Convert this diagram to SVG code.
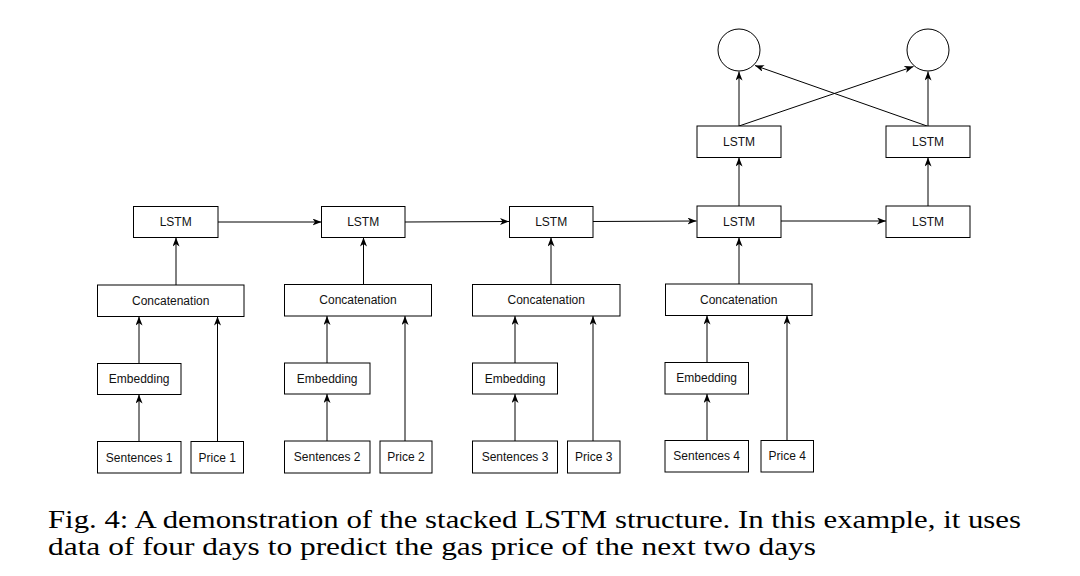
<svg xmlns="http://www.w3.org/2000/svg" width="1080" height="576" viewBox="0 0 1080 576">
<defs>
<marker id="arr" markerUnits="userSpaceOnUse" markerWidth="10" markerHeight="8" refX="9" refY="3.5" orient="auto">
<path d="M0,0 L9,3.5 L0,7 L2.5,3.5 z" fill="#000"/>
</marker>
<style>
.b{fill:#fff;stroke:#000;stroke-width:1}
.t{font-family:"Liberation Sans",Arial,Helvetica,sans-serif;font-size:12px;fill:#111;text-anchor:middle;dominant-baseline:central}
.c{fill:none;stroke:#000;stroke-width:1;marker-end:url(#arr)}
.cap{font-family:"Liberation Serif","Times New Roman",serif;font-size:26px;fill:#000}
</style>
</defs>
<rect width="1080" height="576" fill="#fff"/>

<g id="connectors">
<!-- column 1 -->
<line class="c" x1="139" y1="441.5" x2="139" y2="394.5"/>
<line class="c" x1="139" y1="363.5" x2="139" y2="316.5"/>
<line class="c" x1="217.5" y1="441.5" x2="217.5" y2="316.5"/>
<line class="c" x1="176" y1="285" x2="176" y2="237.5"/>
<line class="c" x1="218" y1="222" x2="321.5" y2="222"/>
<!-- column 2 -->
<line class="c" x1="327" y1="441" x2="327" y2="394"/>
<line class="c" x1="327" y1="363" x2="327" y2="316"/>
<line class="c" x1="405" y1="441" x2="405" y2="316"/>
<line class="c" x1="363.5" y1="284.5" x2="363.5" y2="237.5"/>
<line class="c" x1="405" y1="222" x2="509" y2="221.5"/>
<!-- column 3 -->
<line class="c" x1="515" y1="441" x2="515" y2="394"/>
<line class="c" x1="515" y1="363" x2="515" y2="316"/>
<line class="c" x1="593" y1="441" x2="593" y2="316"/>
<line class="c" x1="551" y1="284.5" x2="551" y2="237.5"/>
<line class="c" x1="593" y1="221.5" x2="696.5" y2="221"/>
<!-- column 4 -->
<line class="c" x1="707" y1="440.5" x2="707" y2="394"/>
<line class="c" x1="707" y1="362.5" x2="707" y2="315.5"/>
<line class="c" x1="787" y1="440.5" x2="787" y2="315.5"/>
<line class="c" x1="739" y1="284" x2="739" y2="237.5"/>
<line class="c" x1="781" y1="221" x2="886" y2="221"/>
<!-- upper layer -->
<line class="c" x1="739" y1="206" x2="739" y2="157.5"/>
<line class="c" x1="928" y1="206" x2="928" y2="157.5"/>
<line class="c" x1="739" y1="126" x2="739" y2="71.5"/>
<line class="c" x1="928" y1="126" x2="928" y2="71.5"/>
<line class="c" x1="739" y1="126" x2="913.5" y2="66.5"/>
<line class="c" x1="927" y1="126" x2="755" y2="65.5"/>
</g>

<!-- column 1 -->
<g id="sentences1"><rect class="b" x="97.5" y="441.5" width="83.5" height="31.5"/><text class="t" x="139.2" y="457.5">Sentences 1</text></g>
<g id="price1"><rect class="b" x="191" y="441.5" width="52.5" height="31.5"/><text class="t" x="217.2" y="457.5">Price 1</text></g>
<g id="embedding1"><rect class="b" x="97.5" y="363.5" width="83.5" height="31"/><text class="t" x="139.2" y="379">Embedding</text></g>
<g id="concat1"><rect class="b" x="97.5" y="285" width="146.5" height="31.5"/><text class="t" x="170.7" y="300.8">Concatenation</text></g>
<g id="lstm1"><rect class="b" x="133.5" y="206.5" width="84.5" height="31"/><text class="t" x="175.7" y="222">LSTM</text></g>

<!-- column 2 -->
<g id="sentences2"><rect class="b" x="284.5" y="441" width="85.5" height="32"/><text class="t" x="327.2" y="457">Sentences 2</text></g>
<g id="price2"><rect class="b" x="380" y="441" width="52" height="32"/><text class="t" x="406" y="457">Price 2</text></g>
<g id="embedding2"><rect class="b" x="284.5" y="363" width="85.5" height="31"/><text class="t" x="327.2" y="378.5">Embedding</text></g>
<g id="concat2"><rect class="b" x="284.5" y="284.5" width="147" height="31.5"/><text class="t" x="358" y="300.3">Concatenation</text></g>
<g id="lstm2"><rect class="b" x="321.5" y="206.5" width="83.5" height="31"/><text class="t" x="363.2" y="222">LSTM</text></g>

<!-- column 3 -->
<g id="sentences3"><rect class="b" x="472.5" y="441" width="85" height="32"/><text class="t" x="515" y="457">Sentences 3</text></g>
<g id="price3"><rect class="b" x="567.5" y="441" width="52.5" height="32"/><text class="t" x="593.7" y="457">Price 3</text></g>
<g id="embedding3"><rect class="b" x="472.5" y="363" width="85" height="31"/><text class="t" x="515" y="378.5">Embedding</text></g>
<g id="concat3"><rect class="b" x="472.5" y="284.5" width="147.5" height="31.5"/><text class="t" x="546.2" y="300.3">Concatenation</text></g>
<g id="lstm3"><rect class="b" x="509.5" y="206.5" width="83.5" height="31"/><text class="t" x="551.2" y="222">LSTM</text></g>

<!-- column 4 -->
<g id="sentences4"><rect class="b" x="665" y="440.5" width="83.5" height="31.5"/><text class="t" x="706.7" y="456.3">Sentences 4</text></g>
<g id="price4"><rect class="b" x="761" y="440.5" width="52.5" height="31.5"/><text class="t" x="787.2" y="456.3">Price 4</text></g>
<g id="embedding4"><rect class="b" x="665" y="362.5" width="83.5" height="31.5"/><text class="t" x="706.7" y="378.3">Embedding</text></g>
<g id="concat4"><rect class="b" x="665.5" y="284" width="146.5" height="31.5"/><text class="t" x="738.7" y="299.8">Concatenation</text></g>
<g id="lstm4"><rect class="b" x="697" y="206" width="84" height="31.5"/><text class="t" x="739" y="221.8">LSTM</text></g>

<!-- column 5 / upper layer -->
<g id="lstm5"><rect class="b" x="886" y="206" width="84" height="31.5"/><text class="t" x="928" y="221.8">LSTM</text></g>
<g id="lstm_up1"><rect class="b" x="697" y="126" width="84" height="31.5"/><text class="t" x="739" y="141.8">LSTM</text></g>
<g id="lstm_up2"><rect class="b" x="886" y="126" width="84" height="31.5"/><text class="t" x="928" y="141.8">LSTM</text></g>
<g id="out1"><circle class="b" cx="739" cy="50" r="21"/></g>
<g id="out2"><circle class="b" cx="928" cy="50" r="21"/></g>

<g id="caption">
<text class="cap" x="48" y="528" textLength="973" lengthAdjust="spacingAndGlyphs">Fig. 4: A demonstration of the stacked LSTM structure. In this example, it uses</text>
<text class="cap" x="48" y="555" textLength="768" lengthAdjust="spacingAndGlyphs">data of four days to predict the gas price of the next two days</text>
</g>
</svg>
